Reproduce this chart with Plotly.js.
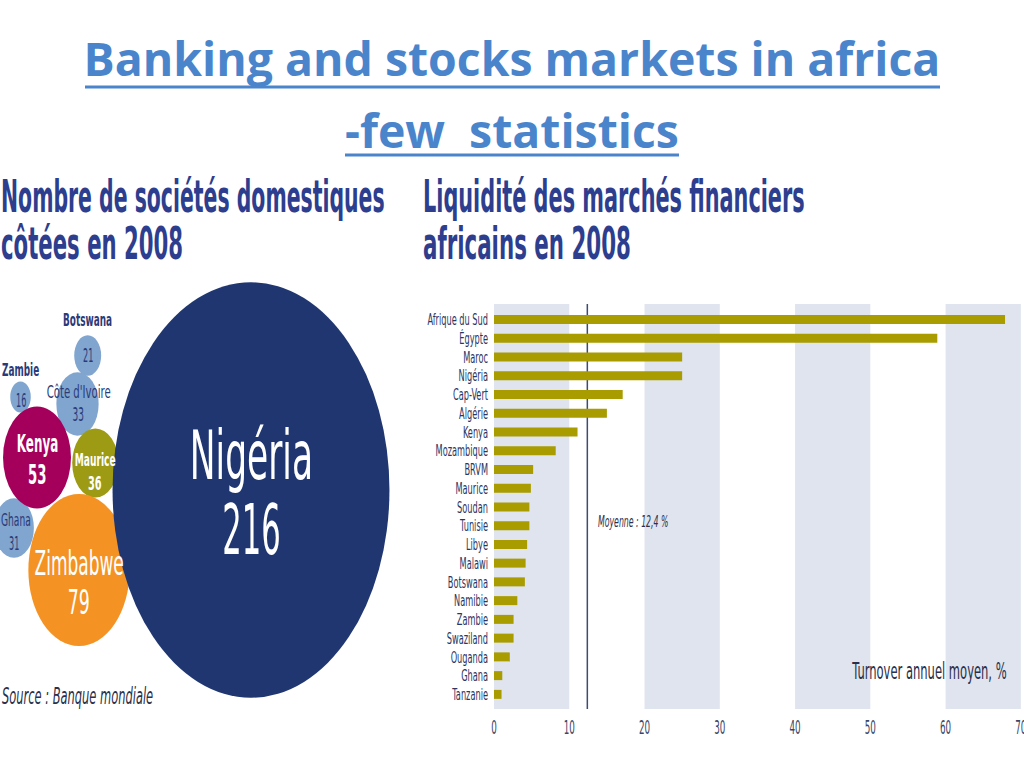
<!DOCTYPE html>
<html><head><meta charset="utf-8">
<script src="https://cdn.plot.ly/plotly-3.0.1.min.js"></script>
<style>
html,body{margin:0;padding:0;background:#fff;width:1024px;height:768px;overflow:hidden;}
#title{position:absolute;left:0;top:0;width:1024px;height:185px;z-index:1;}
#charts{position:absolute;left:0;top:160px;width:1024px;height:405px;transform:scaleY(1.5);transform-origin:0 0;z-index:2;}
</style></head><body>
<div id="title"></div><div id="charts"></div>
<script>
// ---------- data ----------
const marketCountries = ['Afrique du Sud','Égypte','Maroc','Nigéria','Cap-Vert','Algérie','Kenya','Mozambique','BRVM','Maurice','Soudan','Tunisie','Libye','Malawi','Botswana','Namibie','Zambie','Swaziland','Ouganda','Ghana','Tanzanie'];
const turnoverPct = [67.9,58.9,25.0,25.0,17.1,15.0,11.1,8.2,5.2,4.9,4.7,4.7,4.4,4.2,4.1,3.1,2.6,2.6,2.1,1.1,1.0];
const meanTurnoverPct = 12.4;
const xTickValues = [0,10,20,30,40,50,60,70];

const bubbleCountries = ['Botswana','Zambie',"Côte d'Ivoire",'Ghana','Kenya','Maurice','Zimbabwe','Nigéria'];
const listedCompanies = [21,16,33,31,53,36,79,216];

// ---------- layout helpers (positions in reference pixels) ----------
const H = 405, SCALE = 1.5, TOP = 160, TH = 185;
const uy = ref => (ref - TOP) / SCALE;      // page y -> unscaled chart y
const px = ref => ref / 1024;               // page x -> paper x

const NARROW = '"Liberation Sans Narrow", "DejaVu Sans Condensed", "Arial Narrow", sans-serif';
const NAVY = '#2d3e8e';
const TITLE_BLUE = '#4a85cc';

// bubble packing layout
const bubbleCX = [87.7, 20.5, 77.5, 14, 37, 95.3, 79, 251];
const bubbleCY = [355.5, 397, 404, 528, 457.5, 463, 570, 490];
const bubbleColors = ['#80a5cf','#80a5cf','#80a5cf','#80a5cf','#a4005b','#9d9a13','#f49223','#1f3670'];
// label layout: [nameX, nameY, valueX, valueY, nameSize, valueSize, color, nameWeight, valueWeight, nameSqueeze, valueSqueeze]
const bubbleLabels = [
  [87.5,321, 88,356, 11.5,12.5, '#2b3a78',700,400, 0.86,0.72],
  [20.3,370, 20.5,400, 11.5,12.5, '#2b3a78',700,400, 0.86,0.72],
  [78,392, 78,414, 11.5,12.5, '#2b3a78',400,400, 0.98,0.8],
  [15.5,520, 14,543, 11.5,12.5, '#2b3a78',400,400, 0.88,0.72],
  [37,443, 37,474, 17,18, '#ffffff',700,700, 0.78,0.82],
  [95,460.5, 95,482.5, 11.5,12.5, '#ffffff',700,700, 0.88,0.87],
  [79,563.5, 79,602, 22.5,22.5, '#ffffff',400,400, 0.84,0.86],
  [251,456, 251,530, 45,46, '#ffffff',400,400, 0.85,0.74]
];

// ---------- title figure ----------
const titleFont = {family:'"Open Sans", Lato, sans-serif', size:46.4, color:TITLE_BLUE, weight:700};
const ty = ref => 1 - ref / TH;
Plotly.newPlot('title', [], {
  width:1024, height:TH, margin:{l:0,r:0,t:0,b:0},
  paper_bgcolor:'#fff', plot_bgcolor:'#fff',
  xaxis:{visible:false}, yaxis:{visible:false},
  title:{text:'Banking and stocks markets in africa', font:titleFont, x:0.5, xanchor:'center', xref:'paper', y:ty(60), yref:'container', yanchor:'middle'},
  annotations:[{text:'-few\u00a0 statistics', font:titleFont, xref:'paper', yref:'paper', x:0.5, y:ty(130), xanchor:'center', yanchor:'middle', showarrow:false}],
  shapes:[
    {type:'line', xref:'paper', yref:'paper', x0:px(85), x1:px(940), y0:ty(87), y1:ty(87), line:{color:TITLE_BLUE, width:3}},
    {type:'line', xref:'paper', yref:'paper', x0:px(345), x1:px(679), y0:ty(155), y1:ty(155), line:{color:TITLE_BLUE, width:3}}
  ]
}, {staticPlot:true, displayModeBar:false});

// ---------- charts figure ----------
const traces = [
  {
    type:'bar', orientation:'h', x:turnoverPct, y:marketCountries,
    xaxis:'x', yaxis:'y', marker:{color:'#a99c00'}, width:0.48, hoverinfo:'x+y'
  },
  {
    type:'scatter', mode:'markers', xaxis:'x2', yaxis:'y2',
    x:bubbleCX, y:bubbleCY.map(uy), text:bubbleCountries,
    marker:{size:listedCompanies, sizemode:'diameter', sizeref:0.78, color:bubbleColors, opacity:1, line:{width:0}},
    cliponaxis:false, hoverinfo:'text'
  }
];

const shapes = [];
for (let i = 0; i + 1 < xTickValues.length; i += 2) {
  shapes.push({type:'rect', xref:'x', yref:'y domain', x0:xTickValues[i], x1:xTickValues[i+1], y0:0, y1:1,
    fillcolor:'#dfe4ee', line:{width:0}, layer:'below'});
}
shapes.push({type:'line', xref:'x', yref:'y domain', x0:meanTurnoverPct, x1:meanTurnoverPct, y0:0, y1:1,
  line:{color:'#3e4b72', width:1.5}, layer:'below'});

const annotations = [];
const squeeze = [];
function addText(text, x, y, size, color, sq, opts) {
  annotations.push(Object.assign({text:text, x:x, y:y, xref:'paper', yref:'y2', showarrow:false,
    xanchor:'left', align:'left', yanchor:'middle', borderpad:0, font:{family:NARROW, size:size, color:color}}, opts || {}));
  squeeze.push(sq);
}
// headings
const headFont = {family:NARROW, size:29.5, color:NAVY, weight:700};
addText('Nombre de sociétés domestiques', px(0), uy(198), 29.5, NAVY, 0.77, {font:headFont});
addText('côtées en 2008', px(0), uy(243.5), 29.5, NAVY, 0.80, {font:headFont});
addText('Liquidité des marchés financiers', px(422), uy(198), 29.5, NAVY, 0.785, {font:headFont});
addText('africains en 2008', px(422), uy(243.5), 29.5, NAVY, 0.805, {font:headFont});
// source
addText('Source : Banque mondiale', px(154), uy(697), 15, '#2a2f4a', 0.85,
  {xanchor:'right', align:'right', font:{family:NARROW, size:15, color:'#2a2f4a', style:'italic'}});
// bar chart notes
addText('Moyenne : ' + String(meanTurnoverPct).replace('.', ',') + ' %', meanTurnoverPct, uy(521.5), 10.5, '#2a2f4a', 0.825,
  {xref:'x', xshift:10, font:{family:NARROW, size:10.5, color:'#2a2f4a', style:'italic'}});
addText('Turnover annuel moyen, %', px(1008), uy(671), 15, '#2a2f4a', 0.855, {xanchor:'right', align:'right'});
// bubble labels
bubbleLabels.forEach((L, i) => {
  annotations.push({text:bubbleCountries[i], xref:'x2', yref:'y2', x:L[0], y:uy(L[1]), xanchor:'center', align:'center', yanchor:'middle', showarrow:false,
    borderpad:0, font:{family:NARROW, size:L[4], color:L[6], weight:L[7]}});
  squeeze.push(L[9]);
  annotations.push({text:String(listedCompanies[i]), xref:'x2', yref:'y2', x:L[2], y:uy(L[3]), xanchor:'center', align:'center', yanchor:'middle', showarrow:false,
    borderpad:0, font:{family:NARROW, size:L[5], color:L[6], weight:L[8]}});
  squeeze.push(L[10]);
});

const layout = {
  width:1024, height:H, margin:{l:0,r:0,t:0,b:0},
  paper_bgcolor:'rgba(0,0,0,0)', plot_bgcolor:'rgba(0,0,0,0)',
  showlegend:false,
  xaxis:{domain:[494/1024, 1021/1024], range:[0,70.02], tickmode:'array', tickvals:xTickValues, ticks:'', showgrid:false, zeroline:false, showline:false,
    tickfont:{family:NARROW, size:12.5, color:'#3a4668'}, ticklabelstandoff:3, ticklabeloverflow:'allow', fixedrange:true, anchor:'y'},
  yaxis:{domain:[(H-uy(709))/H, (H-uy(304))/H], type:'category', range:[20.78,-0.82], tickmode:'array',
    tickvals:marketCountries, ticktext:marketCountries, ticks:'', showgrid:false, zeroline:false, showline:false,
    tickfont:{family:NARROW, size:11, color:'#2b3563'}, ticklabelstandoff:5, fixedrange:true, anchor:'x'},
  xaxis2:{domain:[0, 0.4], range:[0, 409.6], visible:false, fixedrange:true, anchor:'y2'},
  yaxis2:{domain:[0, 1], range:[H, 0], visible:false, fixedrange:true, anchor:'x2'},
  shapes:shapes, annotations:annotations
};

// narrow the condensed typography horizontally about each text's anchor point (text stays text)
function condense(el, f) {
  if (!el || !el.getComputedTextLength) return 0;
  const w = el.getComputedTextLength();
  const x = parseFloat(el.getAttribute('x')) || 0;
  const prev = el.getAttribute('transform') || '';
  el.setAttribute('transform', (prev + ' matrix(' + f + ',0,0,1,' + (x * (1 - f)).toFixed(2) + ',0)').trim());
  return w * (1 - f);
}
Plotly.newPlot('charts', traces, layout, {staticPlot:true, displayModeBar:false}).then(gd => {
  gd.querySelectorAll('g.annotation').forEach(g => {
    const idx = +g.getAttribute('data-index');
    const f = squeeze[idx];
    if (!f) return;
    const d = condense(g.querySelector('text.annotation-text'), f);
    const r = g.querySelector('rect.bg');
    if (r && d) {
      const align = annotations[idx].align || 'center';
      const rx = parseFloat(r.getAttribute('x')) || 0;
      const rw = parseFloat(r.getAttribute('width')) || 0;
      const shift = align === 'left' ? 0 : (align === 'right' ? d : d / 2);
      r.setAttribute('x', (rx + shift).toFixed(2));
      r.setAttribute('width', Math.max(0, rw - d).toFixed(2));
    }
  });
  gd.querySelectorAll('g.ytick text').forEach(t => condense(t, 0.83));
  gd.querySelectorAll('g.xtick text').forEach(t => condense(t, 0.78));
});
</script>
</body></html>
